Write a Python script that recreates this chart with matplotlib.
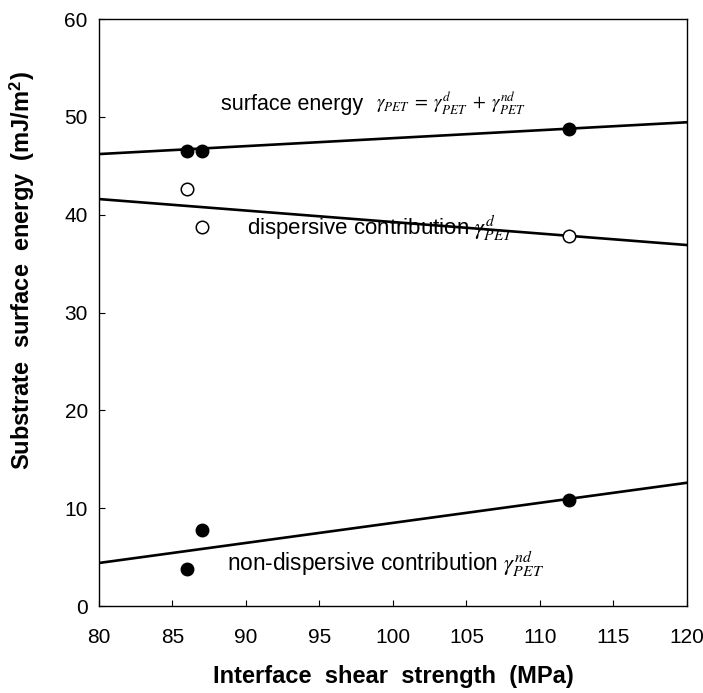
import numpy as np
import matplotlib
matplotlib.use("Agg")
from matplotlib import pyplot as plt

plt.rcParams['font.family'] = ['Liberation Sans', 'DejaVu Sans']
plt.rcParams['mathtext.fontset'] = 'stix'

# measured points
shear = [86.0, 87.0, 112.0]
total_energy = [46.5, 46.5, 48.75]
dispersive = [42.6, 38.7, 37.8]
non_dispersive = [3.8, 7.75, 10.8]

# fitted lines, read at the axis ends
fit_x = [80, 120]
fit_total = [46.2, 49.45]
fit_disp = [41.6, 36.9]
fit_nondisp = [4.4, 12.6]

x_ticks = [80, 85, 90, 95, 100, 105, 110, 115, 120]
y_ticks = [0, 10, 20, 30, 40, 50, 60]

fig = plt.figure(figsize=(7.03, 6.93), dpi=100)
ax = fig.add_axes([0.1408, 0.1255, 0.8364, 0.847])

for fy in (fit_total, fit_disp, fit_nondisp):
    ax.plot(fit_x, fy, color='black', lw=1.9)

ax.plot(shear, total_energy, 'o', color='black', ms=9)
ax.plot(shear, dispersive, 'o', mfc='white', mec='black', mew=1.1, ms=9)
ax.plot(shear, non_dispersive, 'o', color='black', ms=9)

ax.text(88.3, 50.7, 'surface energy', fontsize=15.5, va='baseline')
ax.text(98.85, 50.7, r'$\gamma_{PET}\;=\;\gamma^{d}_{PET}\;+\;\gamma^{nd}_{PET}$',
        fontsize=13.5, va='baseline')
ax.text(90.1, 37.9, r'dispersive contribution $\gamma^{d}_{PET}$', fontsize=16, va='baseline')
ax.text(88.7, 3.56, r'non-dispersive contribution $\gamma^{nd}_{PET}$', fontsize=16.3,
        va='baseline')

ax.set_xlim(80, 120)
ax.set_ylim(0, 60)
ax.set_xticks(x_ticks)
ax.set_yticks(y_ticks)
ax.tick_params(direction='in', length=4, labelsize=15)
ax.tick_params(axis='y', pad=8)
ax.tick_params(axis='x', pad=16)
for s in ax.spines.values():
    s.set_linewidth(1.0)

ax.set_xlabel('Interface  shear  strength  (MPa)', fontsize=17, fontweight='bold', labelpad=13)
ax.set_ylabel(r'Substrate  surface  energy  (mJ/m$^{\mathregular{2}}$)', fontsize=17,
              fontweight='bold', labelpad=11)
ax.yaxis.set_label_coords(-0.105, 0.572)

fig.savefig('out.png', dpi=100)
